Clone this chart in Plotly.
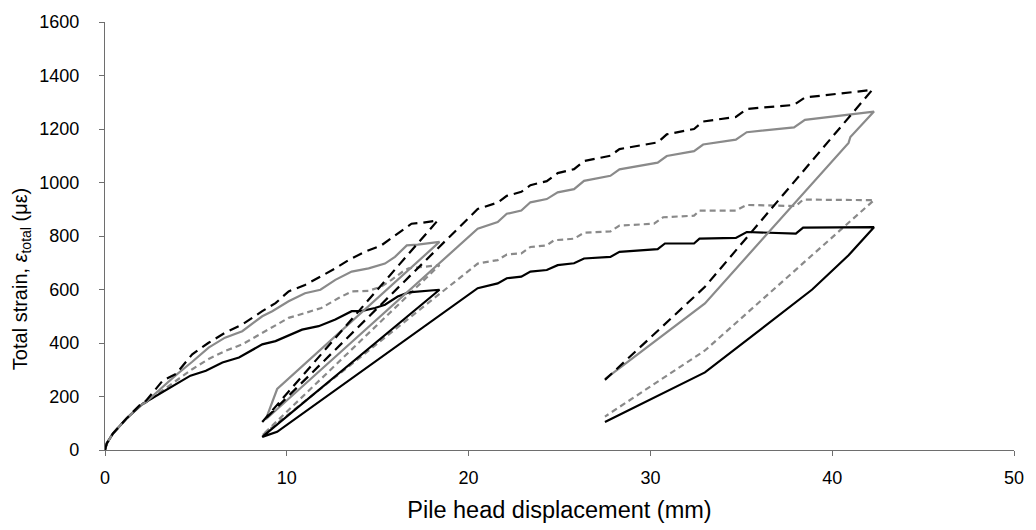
import plotly.graph_objects as go

# Black dashed series
bd_x = [0, 0.1, 0.44, 1.17, 1.9, 2.27, 3.17, 3.9, 4.8, 5.7, 6.6, 7.55, 8.65, 9.38, 10.1, 11.0, 11.85,
        12.67, 13.4, 14.3, 15.2, 15.95, 16.86, 17.5, 18.3,
        8.65,
        20.3, 20.5, 21.6, 22.1, 22.9, 23.4, 24.3, 24.9, 25.8, 26.35, 27.8, 28.3, 30.4, 30.9, 32.4, 32.9,
        34.7, 35.3, 37.9, 38.5, 42.2,
        33.0, 27.5]
bd_y = [0, 25, 62, 117, 167, 185, 259, 284, 358, 401, 438, 469, 519, 549, 593, 617, 648,
        679, 710, 741, 765, 802, 846, 850, 858,
        105,
        889, 901, 925, 950, 965, 990, 1005, 1035, 1050, 1080, 1100, 1125, 1150, 1180, 1200, 1228,
        1245, 1275, 1290, 1318, 1346,
        610, 262]

# Grey solid series
gs_x = [0, 0.1, 0.44, 1.17, 1.9, 2.27, 3.0, 3.9, 4.8, 5.7, 6.6, 7.55, 8.65, 9.2, 10.1, 11.0, 11.85,
        12.67, 13.57, 14.5, 15.4, 15.95, 16.6, 17.2, 18.4,
        9.47, 8.85,
        20.5, 21.6, 22.1, 22.9, 23.4, 24.3, 24.9, 25.8, 26.35, 27.8, 28.3, 30.4, 30.9, 32.4, 32.9,
        34.7, 35.3, 37.9, 38.5, 42.3,
        41.0, 40.9, 33.0, 27.5]
gs_y = [0, 25, 62, 117, 165, 180, 225, 280, 330, 383, 420, 444, 500, 519, 556, 586, 599,
        636, 667, 679, 697, 722, 765, 768, 778,
        228, 115,
        827, 852, 883, 895, 926, 938, 963, 975, 1006, 1025, 1049, 1074, 1099, 1117, 1142,
        1160, 1188, 1206, 1234, 1265,
        1170, 1148, 548, 265]

# Grey dashed series
gd_x = [0, 0.1, 0.44, 1.17, 1.9, 2.27, 3.0, 3.9, 4.8, 5.7, 6.6, 7.55, 8.65, 9.2, 10.1, 11.0, 11.9,
        12.85, 13.57, 14.5, 15.2, 15.76, 16.5, 16.7, 18.4,
        8.65,
        20.5, 21.6, 22.1, 22.9, 23.4, 24.3, 24.7, 25.8, 26.35, 27.8, 28.3, 30.2, 30.7, 32.4, 32.7,
        34.7, 35.3, 38.0, 38.4, 42.3,
        33.0, 27.5]
gd_y = [0, 25, 62, 117, 165, 178, 215, 260, 302, 340, 370, 395, 438, 457, 494, 512, 531,
        568, 593, 595, 611, 636, 673, 679, 691,
        55,
        697, 710, 731, 735, 759, 765, 784, 790, 812, 817, 839, 846, 870, 876, 895,
        895, 916, 912, 936, 934,
        372, 125]

# Black solid series
bs_x = [0, 0.1, 0.44, 1.17, 2.08, 3.0, 3.9, 4.7, 5.55, 6.46, 7.37, 8.65, 9.38, 10.84, 11.75,
        12.67, 13.57, 14.1, 14.85, 15.4, 16.1, 16.7, 18.4,
        8.65, 9.47,
        20.5, 21.6, 22.1, 22.9, 23.4, 24.3, 24.9, 25.8, 26.35, 27.8, 28.3, 30.4, 30.8, 32.4, 32.7,
        34.7, 35.3, 38.0, 38.4, 42.3,
        40.9, 38.9, 33.0, 27.5]
bs_y = [0, 25, 62, 117, 173, 210, 247, 278, 296, 327, 346, 395, 407, 450, 463,
        488, 519, 519, 531, 543, 574, 589, 599,
        49, 68,
        605, 623, 642, 648, 667, 673, 691, 698, 716, 722, 741, 751, 772, 772, 790,
        793, 815, 809, 831, 833,
        728, 600, 290, 105]

x_ticks = [0, 10, 20, 30, 40, 50]
y_ticks = [0, 200, 400, 600, 800, 1000, 1200, 1400, 1600]
x_title = "Pile head displacement (mm)"
y_title = "Total strain, <i>ε</i><sub>total</sub> (με)"

GREY = "#8a8a8a"
series = [
    (gd_x, gd_y, GREY, "6px,4px"),
    (bs_x, bs_y, "black", "solid"),
    (gs_x, gs_y, GREY, "solid"),
    (bd_x, bd_y, "black", "10px,6px"),
]

fig = go.Figure()
for xs, ys, col, dash in series:
    fig.add_trace(go.Scatter(x=xs, y=ys, mode="lines",
                             line=dict(color=col, width=2.2, dash=dash),
                             showlegend=False, hoverinfo="skip"))

axis_col = "#6e6e6e"
fig.update_layout(
    width=1036, height=530,
    margin=dict(l=105, r=17, t=18, b=80),
    plot_bgcolor="white", paper_bgcolor="white",
    font=dict(family="Liberation Sans, Arial, sans-serif", size=18, color="black"),
    xaxis=dict(range=[0, 50], tickvals=x_ticks, ticks="outside", ticklen=5,
               tickcolor=axis_col, showline=True, linecolor=axis_col, linewidth=1.3,
               showgrid=False, zeroline=False, tickfont=dict(size=18), ticklabelstandoff=6,
               title=dict(text=x_title, font=dict(size=23.5), standoff=14)),
    yaxis=dict(range=[0, 1600], tickvals=y_ticks, ticks="outside", ticklen=5,
               tickcolor=axis_col, showline=True, linecolor=axis_col, linewidth=1.3,
               showgrid=False, zeroline=False, tickfont=dict(size=18), ticklabelstandoff=16),
)
fig.add_annotation(text=y_title, xref="paper", yref="paper", x=-0.092, y=0.40,
                   xanchor="center", yanchor="middle", textangle=-90, showarrow=False,
                   font=dict(size=20, color="black"))

fig.write_html("out.html")
